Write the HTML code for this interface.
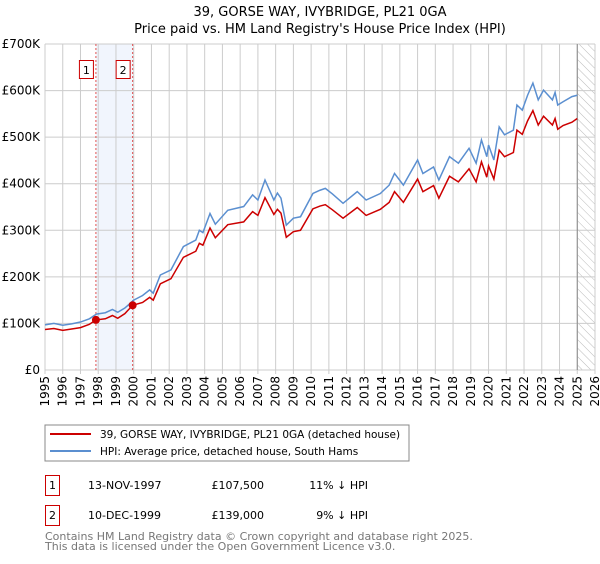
<!DOCTYPE html>
<html><head><meta charset="utf-8"><style>
body{margin:0;background:#fff;font-family:"DejaVu Sans","Liberation Sans",sans-serif;}
svg text{font-family:"DejaVu Sans","Liberation Sans",sans-serif;}
</style></head><body>
<svg width="600" height="560" viewBox="0 0 600 560" xmlns="http://www.w3.org/2000/svg">
<defs><pattern id="hatch" width="6" height="6" patternUnits="userSpaceOnUse" patternTransform="rotate(-45)"><line x1="0" y1="0" x2="0" y2="6" stroke="#bbb" stroke-width="1"/></pattern></defs>
<text x="320" y="16" text-anchor="middle" font-size="13">39, GORSE WAY, IVYBRIDGE, PL21 0GA</text>
<text x="320" y="33" text-anchor="middle" font-size="13">Price paid vs. HM Land Registry's House Price Index (HPI)</text>
<g id="grid"></g>
<g id="marks"></g>
<g id="axes"></g>
<g>
<rect x="45" y="425" width="364" height="36" fill="#fff" stroke="#888"/>
<line x1="50" y1="434" x2="91" y2="434" stroke="#cc0000" stroke-width="2"/>
<text x="100" y="438" font-size="10.5">39, GORSE WAY, IVYBRIDGE, PL21 0GA (detached house)</text>
<line x1="50" y1="451" x2="91" y2="451" stroke="#5b8fd0" stroke-width="2"/>
<text x="100" y="455" font-size="10.5">HPI: Average price, detached house, South Hams</text>
</g>
<g font-size="11">
<rect x="45.5" y="475.5" width="14" height="20" fill="#fff" stroke="#cc0000"/>
<text x="52.5" y="489" text-anchor="middle">1</text>
<text x="88" y="489">13-NOV-1997</text>
<text x="264" y="489" text-anchor="end">£107,500</text>
<text x="368" y="489" text-anchor="end">11% ↓ HPI</text>
<rect x="45.5" y="505.5" width="14" height="20" fill="#fff" stroke="#cc0000"/>
<text x="52.5" y="519" text-anchor="middle">2</text>
<text x="88" y="519">10-DEC-1999</text>
<text x="264" y="519" text-anchor="end">£139,000</text>
<text x="368" y="519" text-anchor="end">9% ↓ HPI</text>
</g>
<text x="45" y="540" font-size="11" fill="#777">Contains HM Land Registry data © Crown copyright and database right 2025.</text>
<text x="45" y="550" font-size="11" fill="#777">This data is licensed under the Open Government Licence v3.0.</text>
</svg>
<script>
const xTicks=[1995,1996,1997,1998,1999,2000,2001,2002,2003,2004,2005,2006,2007,2008,2009,2010,2011,2012,2013,2014,2015,2016,2017,2018,2019,2020,2021,2022,2023,2024,2025,2026];
const yTicks=[0,100,200,300,400,500,600,700];
const yLabels=["£0","£100K","£200K","£300K","£400K","£500K","£600K","£700K"];
const hpiYears=[1995.0,1995.5,1996.0,1996.5,1997.0,1997.5,1997.9,1998.4,1998.8,1999.1,1999.5,2000.0,2000.5,2000.9,2001.1,2001.5,2002.1,2002.8,2003.5,2003.7,2003.9,2004.3,2004.6,2005.3,2006.2,2006.7,2007.0,2007.4,2007.9,2008.1,2008.3,2008.6,2009.0,2009.4,2010.1,2010.5,2010.8,2011.2,2011.8,2012.6,2013.1,2013.9,2014.4,2014.7,2015.2,2016.0,2016.3,2016.9,2017.2,2017.8,2018.3,2018.9,2019.3,2019.6,2019.9,2020.0,2020.3,2020.6,2020.9,2021.4,2021.6,2021.9,2022.2,2022.5,2022.8,2023.1,2023.6,2023.75,2023.9,2024.2,2024.7,2025.0];
const hpiValues=[97,100,96,99,103,110,120,123,130,124,133,150,160,172,165,204,215,265,279,300,295,336,313,343,351,376,365,408,365,380,369,311,326,329,379,386,390,378,358,383,365,379,397,422,397,451,422,436,408,458,444,476,444,494,458,483,451,522,505,515,569,558,590,616,580,601,580,596,569,576,587,590];
const priceYears=[1995.0,1995.5,1996.0,1996.5,1997.0,1997.5,1997.87,1998.4,1998.8,1999.1,1999.5,1999.94,2000.5,2000.9,2001.1,2001.5,2002.1,2002.8,2003.5,2003.7,2003.9,2004.3,2004.6,2005.3,2006.2,2006.7,2007.0,2007.4,2007.9,2008.1,2008.3,2008.6,2009.0,2009.4,2010.1,2010.5,2010.8,2011.2,2011.8,2012.6,2013.1,2013.9,2014.4,2014.7,2015.2,2016.0,2016.3,2016.9,2017.2,2017.8,2018.3,2018.9,2019.3,2019.6,2019.9,2020.0,2020.3,2020.6,2020.9,2021.4,2021.6,2021.9,2022.2,2022.5,2022.8,2023.1,2023.6,2023.75,2023.9,2024.2,2024.7,2025.0];
const priceValues=[87,89,85,88,91,98,107.5,110,117,111,121,139,145,156,150,185,196,242,255,272,268,305,284,312,318,340,332,370,334,345,337,285,297,300,346,352,355,344,326,349,332,345,360,383,360,410,383,396,369,416,404,432,404,447,414,438,410,472,458,467,515,506,535,557,526,545,526,540,517,525,532,540];
const sales=[{x:1997.87,v:107.5,label:"1"},{x:1999.94,v:139,label:"2"}];
const X0=45,X1=595,Y0=370,Y1=44;
const sx=y=>X0+(y-1995)/(2026-1995)*(X1-X0);
const sy=v=>Y0-v/700*(Y0-Y1);
const NS="http://www.w3.org/2000/svg";
function mk(t,a,p){const e=document.createElementNS(NS,t);for(const k in a)e.setAttribute(k,a[k]);p.appendChild(e);return e;}
const grid=document.getElementById('grid'),marks=document.getElementById('marks'),axes=document.getElementById('axes');
const band=mk('rect',{x:sx(sales[0].x),y:Y1,width:sx(sales[1].x)-sx(sales[0].x),height:Y0-Y1,fill:'#eef3fd',opacity:0.8},grid);


const hatch=mk('rect',{x:sx(2025.0),y:Y1,width:X1-sx(2025.0),height:Y0-Y1,fill:'url(#hatch)'},grid);


xTicks.forEach(t=>{const l=mk('line',{x1:sx(t),x2:sx(t),y1:Y1,y2:Y0+4,stroke:'#ccc'},grid);


const px=sx(t)+4,py=Y0+6;
const tx=mk('text',{x:px,y:py,'text-anchor':'end','font-size':'12',transform:'rotate(-90 '+px+' '+py+')'},axes);tx.textContent=t;

});
yTicks.forEach((t,i)=>{const l=mk('line',{x1:X0,x2:X1,y1:sy(t),y2:sy(t),stroke:'#ccc'},grid);


const tx=mk('text',{x:X0-5,y:sy(t)+4,'text-anchor':'end','font-size':'12'},axes);tx.textContent=yLabels[i];

});
const vl=mk('line',{x1:sx(2025.0),x2:sx(2025.0),y1:Y1,y2:Y0,stroke:'#888'},grid);


sales.forEach(s=>{const d=mk('line',{x1:sx(s.x),x2:sx(s.x),y1:Y1,y2:Y0,stroke:'#e05050','stroke-dasharray':'2,2'},grid);


const b=mk('rect',{x:sx(s.x)-16.5,y:60.5,width:14,height:18,fill:'#fff',stroke:'#cc0000'},axes);


const t=mk('text',{x:sx(s.x)-9.5,y:74,'text-anchor':'middle','font-size':'11'},axes);t.textContent=s.label;});
const hp=mk('polyline',{points:hpiYears.map((y,i)=>sx(y)+','+sy(hpiValues[i])).join(' '),fill:'none',stroke:'#5b8fd0','stroke-width':1.5},marks);


const pp=mk('polyline',{points:priceYears.map((y,i)=>sx(y)+','+sy(priceValues[i])).join(' '),fill:'none',stroke:'#cc0000','stroke-width':1.5},marks);


sales.forEach(s=>{const c=mk('circle',{cx:sx(s.x),cy:sy(s.v),r:4,fill:'#cc0000'},marks);

});
</script>
</body></html>
